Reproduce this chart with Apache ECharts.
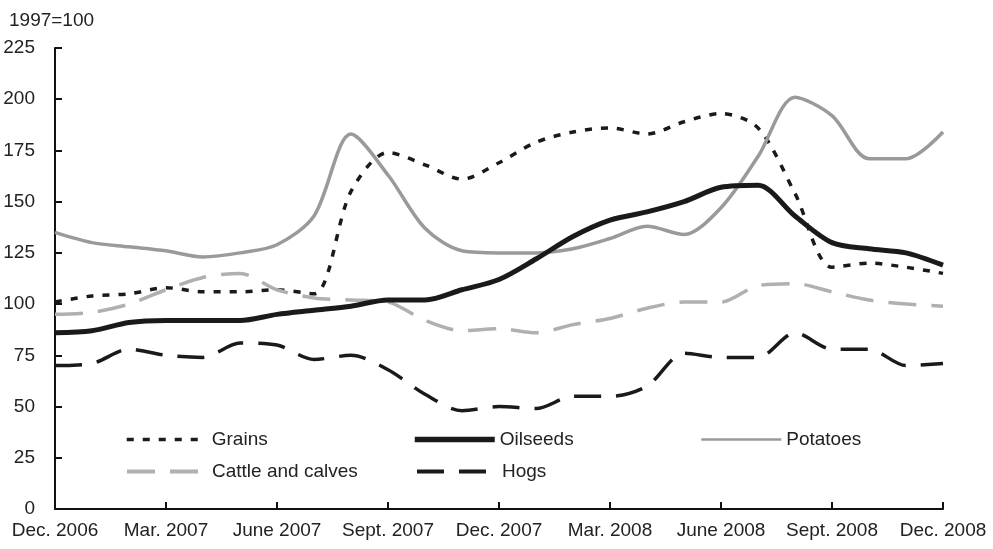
<!DOCTYPE html>
<html>
<head>
<meta charset="utf-8">
<script src="https://cdn.jsdelivr.net/npm/echarts@6/dist/echarts.min.js"></script>
<style>
  html, body { margin: 0; padding: 0; background: #fff; }
  #chart { width: 993px; height: 549px; }
</style>
</head>
<body>
<div id="chart"></div>
<script>
// monthly, Dec. 2006 .. Dec. 2008
const months = [
  "Dec. 2006", "Jan. 2007", "Feb. 2007", "Mar. 2007", "Apr. 2007", "May 2007",
  "June 2007", "July 2007", "Aug. 2007", "Sept. 2007", "Oct. 2007", "Nov. 2007",
  "Dec. 2007", "Jan. 2008", "Feb. 2008", "Mar. 2008", "Apr. 2008", "May 2008",
  "June 2008", "July 2008", "Aug. 2008", "Sept. 2008", "Oct. 2008", "Nov. 2008",
  "Dec. 2008"
];

const grains = [101, 104, 105, 108, 106, 106, 107, 105, 155, 174, 168, 161, 169,
  179, 184, 186, 183, 189, 193, 186, 154, 118, 120, 118, 115];
const oilseeds = [86, 87, 91, 92, 92, 92, 95, 97, 99, 102, 102, 107, 112,
  122, 133, 141, 145, 150, 157, 158, 143, 130, 127, 125, 119];
const potatoes = [135, 130, 128, 126, 123, 125, 129, 143, 183, 163, 137, 126, 125,
  125, 127, 132, 138, 134, 147, 172, 201, 192, 171, 171, 184];
const cattle = [95, 96, 100, 107, 113, 115, 107, 103, 102, 101, 92, 87, 88,
  86, 90, 93, 98, 101, 101, 109, 110, 106, 102, 100, 99];
const hogs = [70, 71, 78, 75, 74, 81, 80, 73, 75, 68, 56, 48, 50,
  49, 55, 55, 60, 76, 74, 74, 86, 78, 78, 70, 71];

const yTicks = [0, 25, 50, 75, 100, 125, 150, 175, 200, 225];

const font = "'Liberation Sans Narrow', 'Arial Narrow', 'Liberation Sans', sans-serif";

const chart = echarts.init(document.getElementById("chart"), null, { renderer: "canvas" });

function line(name, data, color, width, type) {
  return {
    name: name,
    type: "line",
    data: data,
    smooth: 0.3,
    symbol: "none",
    lineStyle: { color: color, width: width, type: type },
    itemStyle: { color: color },
    z: name === "Oilseeds" ? 3 : 2
  };
}

// one legend per entry so the columns line up like the original
function legendAt(name, left, top, lw) {
  return {
    data: [name],
    left: left,
    top: top,
    itemWidth: 80,
    itemHeight: 14,
    itemGap: 0,
    selectedMode: false,
    itemStyle: { opacity: 0 },
    lineStyle: { width: lw },
    textStyle: { fontFamily: font, fontSize: 19, color: "#222", padding: [0, 0, 0, 0] }
  };
}

chart.setOption({
  animation: false,
  title: {
    text: "1997=100",
    left: 4,
    top: 6,
    textStyle: { fontFamily: font, fontSize: 19, fontWeight: "normal", color: "#222" }
  },
  grid: { left: 55, right: 50, top: 48, bottom: 40, containLabel: false },
  legend: [
    legendAt("Grains", 120, 425, 3.5),
    legendAt("Oilseeds", 407, 425, 5.5),
    legendAt("Potatoes", 695, 425, 2.5),
    legendAt("Cattle and calves", 120, 457, 4),
    legendAt("Hogs", 410, 457, 4)
  ],
  xAxis: {
    type: "category",
    data: months,
    boundaryGap: false,
    axisLine: { lineStyle: { color: "#111", width: 2 } },
    axisTick: { inside: true, length: 7, interval: 2, lineStyle: { color: "#111", width: 2 } },
    axisLabel: {
      interval: 2,
      margin: 12,
      fontFamily: font,
      fontSize: 19,
      color: "#222"
    },
    splitLine: { show: false }
  },
  yAxis: {
    type: "value",
    min: yTicks[0],
    max: yTicks[yTicks.length - 1],
    interval: 25,
    axisLine: { show: true, lineStyle: { color: "#111", width: 2 } },
    axisTick: { show: true, inside: true, length: 7, lineStyle: { color: "#111", width: 2 } },
    axisLabel: { margin: 20, fontFamily: font, fontSize: 19, color: "#222" },
    splitLine: { show: false }
  },
  series: [
    line("Grains", grains, "#1a1a1a", 3.5, [7, 9]),
    line("Oilseeds", oilseeds, "#1a1a1a", 5, "solid"),
    line("Potatoes", potatoes, "#9a9a9c", 3.5, "solid"),
    line("Cattle and calves", cattle, "#b0b0b0", 3.5, [28, 15]),
    line("Hogs", hogs, "#1a1a1a", 3.5, [27, 15])
  ]
});
</script>
</body>
</html>
